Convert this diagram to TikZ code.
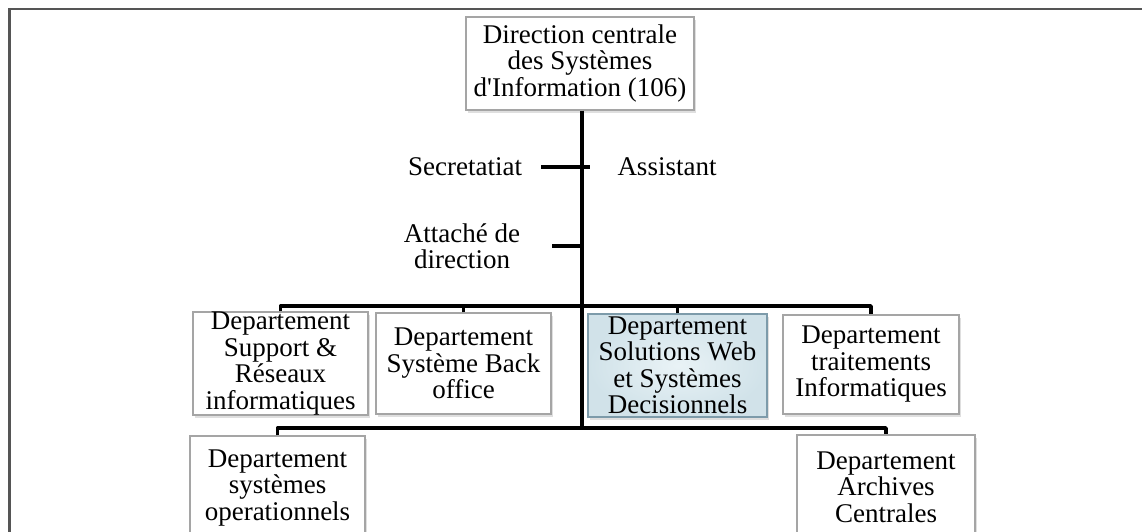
\documentclass[tikz,border=0pt]{standalone}
\usepackage{fontspec}
\setmainfont{Liberation Serif}[Ligatures=TeXOff]
\usetikzlibrary{shadows}
\definecolor{boxline}{RGB}{165,165,165}
\definecolor{hiline}{RGB}{125,155,170}
\definecolor{hifill}{RGB}{218,234,240}
\definecolor{frameline}{RGB}{85,85,85}
\begin{document}
\begin{tikzpicture}[x=1pt,y=-1pt,
  orgbox/.style={draw=boxline, line width=1.4pt, fill=white, inner sep=0pt,
    align=center, font=\fontsize{27}{26.5}\selectfont,
    drop shadow={shadow xshift=2pt, shadow yshift=-3pt, opacity=0.25}},
  hibox/.style={orgbox, draw=hiline, inner color=hifill!60!white, outer color=hifill!90!hiline},
  lbl/.style={inner sep=0pt, align=center, font=\fontsize{27}{26.5}\selectfont},
  trunk/.style={line width=4.6pt},
  bar/.style={line width=3.6pt, line join=round},
  tick/.style={line width=3.4pt}]
\useasboundingbox (0,0) rectangle (1142,531);
% outer frame (top and left edges)
\draw[frameline, line width=2.6pt] (9.5,560) -- (9.5,9) -- (1150,9);

% head of the organisation
\node[orgbox, minimum width=228pt, minimum height=93pt] (top) at (580,63.5)
  {Direction centrale\\des Systèmes\\d'Information (106)};

% staff positions
\node[lbl] (sec) at (465,167) {Secretatiat};
\node[lbl] (asst) at (667,167) {Assistant};
\node[lbl] (att) at (462,246) {Attaché de\\direction};

% departments
\node[orgbox, minimum width=175pt, minimum height=101pt] (d1) at (280.5,363.5)
  {Departement\\Support \&\\Réseaux\\informatiques};
\node[orgbox, minimum width=175pt, minimum height=101pt] (d2) at (463.5,363.5)
  {Departement\\Système Back\\office};
\node[hibox, minimum width=179pt, minimum height=103pt] (d3) at (677.5,365.5)
  {Departement\\Solutions Web\\et Systèmes\\Decisionnels};
\node[orgbox, minimum width=176pt, minimum height=99pt] (d4) at (871,364.5)
  {Departement\\traitements\\Informatiques};
\node[orgbox, minimum width=175pt, minimum height=104pt] (d5) at (277.5,488)
  {Departement\\systèmes\\operationnels};
\node[orgbox, minimum width=178pt, minimum height=104pt] (d6) at (886,487)
  {Departement\\Archives\\Centrales};

% junctions on the trunk
\coordinate (j1) at (582,306);
\coordinate (j2) at (582,428);

% trunk and staff ticks
\draw[trunk] (top.south -| j2) -- (j2);
\draw[tick] ([xshift=19pt]sec.east) -- (590,167);
\draw[tick] ([xshift=32pt]att.east) -- (582,246);

% first row of departments
\draw[bar] (d1.north) |- (j1) -| (d4.north);
\draw[bar] (d2.north) -- (d2.north |- j1);
\draw[bar] (d3.north) -- (d3.north |- j1);

% second row of departments
\draw[bar] (d5.north) |- (j2) -| (d6.north);
\end{tikzpicture}
\end{document}
